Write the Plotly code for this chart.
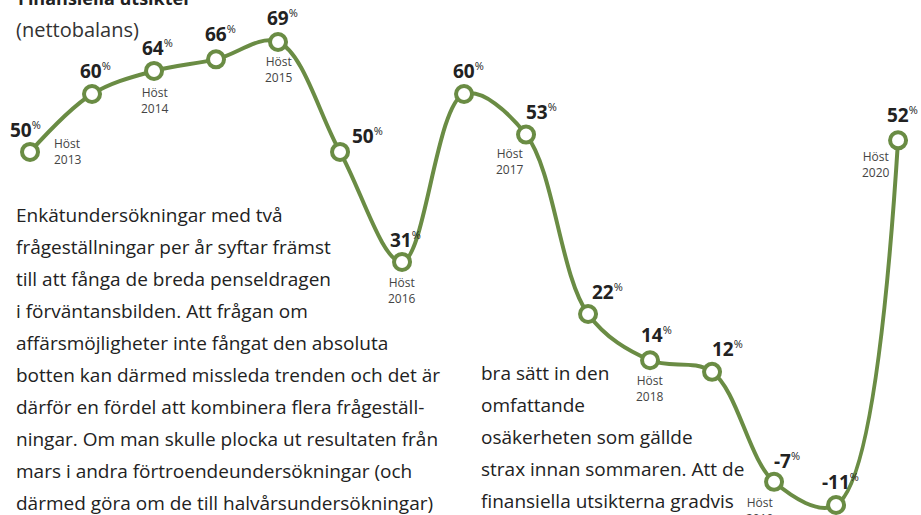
import plotly.graph_objects as go

values = [50, 60, 64, 66, 69, 50, 31, 60, 53, 22, 14, 12, -7, -11, 52]
seasons = ["Höst 2013", "", "Höst 2014", "", "Höst 2015", "", "Höst 2016", "",
           "Höst 2017", "", "Höst 2018", "", "Höst 2019", "", "Höst 2020"]
title = "Finansiella utsikter"
subtitle = "(nettobalans)"
left_text = [
    "Enkätundersökningar med två",
    "frågeställningar per år syftar främst",
    "till att fånga de breda penseldragen",
    "i förväntansbilden. Att frågan om",
    "affärsmöjligheter inte fångat den absoluta",
    "botten kan därmed missleda trenden och det är",
    "därför en fördel att kombinera flera frågeställ-",
    "ningar. Om man skulle plocka ut resultaten från",
    "mars i andra förtroendeundersökningar (och",
    "därmed göra om de till halvårsundersökningar)",
]
right_text = [
    "bra sätt in den",
    "omfattande",
    "osäkerheten som gällde",
    "strax innan sommaren. Att de",
    "finansiella utsikterna gradvis",
]

W, H = 921, 515
GREEN = "#6a8c44"
FONT = "Open Sans"

x = list(range(len(values)))

fig = go.Figure()
fig.add_trace(go.Scatter(
    x=x, y=values, mode="lines+markers",
    line=dict(color=GREEN, width=4, shape="spline", smoothing=1.0),
    marker=dict(size=16, color="white", line=dict(color=GREEN, width=4)),
    hoverinfo="skip", showlegend=False,
))

# value label pixel offsets (dx, dy) relative to points (dy positive = up)
val_off = [(-5, 22), (3, 23), (3, 23), (4, 25), (4, 24), (27, 16), (3, 22), (4, 23),
           (15, 23), (19, 22), (6, 25), (15, 23), (13, 21), (4, 23), (4, 25)]
ann = []
for i, v in enumerate(values):
    dx, dy = val_off[i]
    ann.append(dict(x=i, y=v, xref="x", yref="y", showarrow=False,
                    text=f"<b>{v}</b><sup><span style='font-size:11px'>%</span></sup>",
                    xshift=dx, yshift=dy,
                    font=dict(family=FONT, size=19, color="#222"),
                    xanchor="center", yanchor="middle"))

season_off = {0: (22, 0, "left"), 2: (1, -30, "center"), 4: (1, -28, "center"),
              6: (0, -29, "center"), 8: (-16, -27, "center"), 10: (0, -28, "center"),
              12: (-14, -29, "center"), 14: (-22, -24, "center")}
for i, s in enumerate(seasons):
    if not s:
        continue
    dx, dy, al = season_off[i]
    a, b = s.split(" ")
    ann.append(dict(x=i, y=values[i], xref="x", yref="y", showarrow=False,
                    text=f"{a}<br>{b}", xshift=dx, yshift=dy, align=al,
                    xanchor="left" if al == "left" else "center", yanchor="middle",
                    font=dict(family=FONT, size=12, color="#444")))

ann.append(dict(x=16 / W, y=1, xref="paper", yref="paper", showarrow=False,
                text=f"<b>{title}</b>", xanchor="left", yanchor="middle", yshift=2,
                font=dict(family=FONT, size=18, color="#222")))
ann.append(dict(x=14 / W, y=1 - 30 / H, xref="paper", yref="paper", showarrow=False,
                text=subtitle, xanchor="left", yanchor="middle",
                font=dict(family=FONT, size=20, color="#333")))

for k, line in enumerate(left_text):
    ann.append(dict(x=14 / W, y=1 - (215 + 32 * k) / H, xref="paper", yref="paper",
                    showarrow=False, text=line, xanchor="left", yanchor="middle",
                    font=dict(family=FONT, size=19, color="#222")))
for k, line in enumerate(right_text):
    ann.append(dict(x=479 / W, y=1 - (373 + 32 * k) / H, xref="paper", yref="paper",
                    showarrow=False, text=line, xanchor="left", yanchor="middle",
                    font=dict(family=FONT, size=19, color="#222")))

fig.update_layout(
    width=W, height=H, margin=dict(l=0, r=0, t=0, b=0),
    paper_bgcolor="white", plot_bgcolor="white",
    xaxis=dict(visible=False, range=[-0.484, 14.37], fixedrange=True),
    yaxis=dict(visible=False, range=[-12.73, 76.25], fixedrange=True),
    annotations=ann,
)
fig.write_html("out.html", config={"displayModeBar": False},
               post_script="document.body.style.margin='0';document.body.style.overflow='hidden';")
